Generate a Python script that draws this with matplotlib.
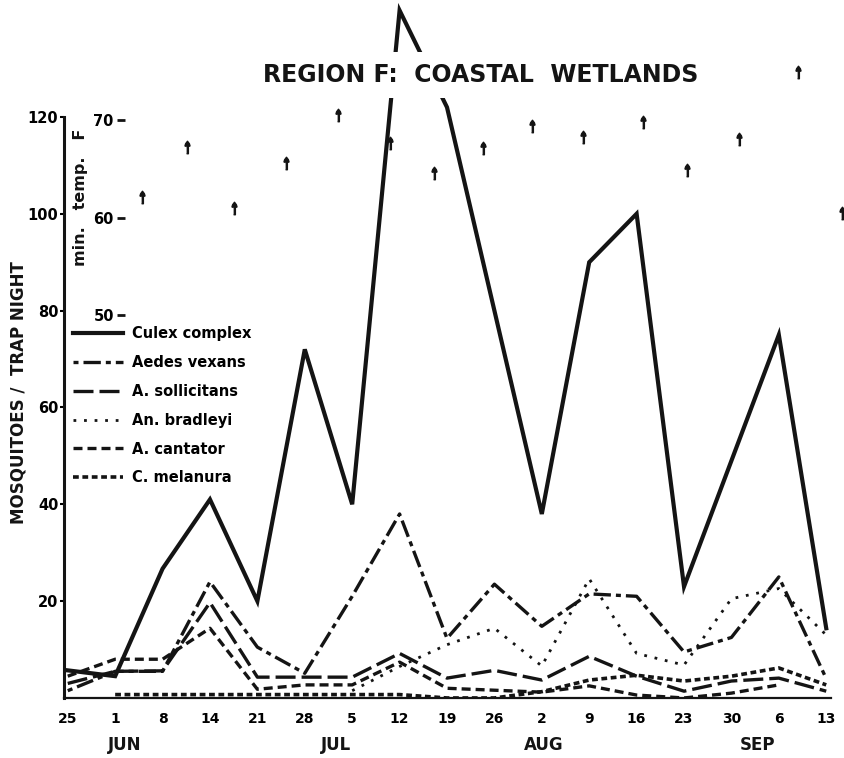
import numpy as np
import matplotlib
matplotlib.use('Agg')
import matplotlib.pyplot as plt

# semanas de coleta (25 JUN ... 13 SEP)
dias = ['25', '1', '8', '14', '21', '28', '5', '12', '19', '26', '2', '9', '16', '23', '30', '6', '13']
meses = ['JUN', 'JUL', 'AUG', 'SEP']
meses_pos = [1.2, 5.65, 10.05, 14.55]

nan = np.nan
culex = [5.7, 4.5, 26.7, 41, 20, 72, 40, 142, 122, 80, 38, 90, 100, 23, 49, 75, 14.4]
vexans = [1.5, 5.5, 5.5, 24, 10.5, 5.1, 21, 38, 12.3, 23.5, 14.8, 21.5, 21, 9.5, 12.5, 25, 4]
sollicitans = [3, 5.5, 5.6, 19.7, 4.3, 4.3, 4.3, 9.2, 4.1, 5.7, 3.7, 8.6, 4.5, 1.4, 3.5, 4.1, 1.4]
bradleyi = [nan, nan, nan, nan, nan, nan, 1.5, 6.5, 11, 14.4, 6.6, 24.6, 9.2, 6.8, 20.5, 22.6, 13]
cantator = [4.5, 8, 8, 14.4, 1.8, 2.7, 2.7, 7.4, 2, 1.6, 1.2, 2.5, 0.6, 0, 1, 2.7, nan]
melanura = [nan, 0.7, 0.7, 0.7, 0.7, 0.7, 0.7, 0.7, 0, 0, 1.3, 3.7, 4.7, 3.5, 4.5, 6.2, 2.7]

# temperatura minima (F), posicao em semanas
temp_x = [1.56, 2.51, 3.50, 4.60, 5.70, 6.79, 7.72, 8.76, 9.79, 10.86, 12.13, 13.06, 14.16, 15.40, 16.33]
temp_min = [62.1, 67.2, 61.0, 65.6, 70.5, 67.6, 64.6, 67.1, 69.4, 68.2, 69.8, 64.9, 68.0, 74.9, 60.5]

tinta = '#141414'
x = np.arange(len(dias))

fig = plt.figure(figsize=(8.45, 7.58), dpi=100)
ax = fig.add_axes([0.0757, 0.0792, 0.9077, 0.7665])

ax.plot(x, culex, color=tinta, lw=3.0, solid_joinstyle='miter', clip_on=False,
        label='Culex complex')
ax.plot(x, vexans, color=tinta, lw=2.4, linestyle=(0, (1.5, 1.5, 5.2, 1.5)),
        label='Aedes vexans')
ax.plot(x, sollicitans, color=tinta, lw=2.4, linestyle=(0, (6, 1.8)),
        label='A. sollicitans')
ax.plot(x, bradleyi, color=tinta, lw=2.0, linestyle=(0, (1, 2.8)),
        label='An. bradleyi')
ax.plot(x, cantator, color=tinta, lw=2.4, linestyle=(0, (2.7, 1.5)),
        label='A. cantator')
ax.plot(x, melanura, color=tinta, lw=2.6, linestyle=(0, (1.6, 1.0)),
        label='C. melanura')

ax.set_xlim(-0.08, 16.1)
ax.set_ylim(0, 120)
ax.spines['top'].set_visible(False)
ax.spines['right'].set_visible(False)
ax.spines['left'].set_linewidth(2.2)
ax.spines['bottom'].set_linewidth(1.6)
ax.spines['left'].set_color(tinta)
ax.spines['bottom'].set_color(tinta)

ax.set_xticks(x)
ax.set_xticklabels(dias, fontsize=10, fontweight='bold')
ax.tick_params(axis='x', length=0, pad=10)
ax.set_yticks([20, 40, 60, 80, 100, 120])
ax.set_yticklabels(['20', '40', '60', '80', '100', '120'], fontsize=10.5, fontweight='bold')
ax.tick_params(axis='y', length=3, width=1.5, pad=1, direction='out')

for m, p in zip(meses, meses_pos):
    ax.text(p, -0.081, m, transform=ax.get_xaxis_transform(), ha='center', va='center',
            fontsize=12, fontweight='bold', color=tinta)

ax.set_ylabel('MOSQUITOES /  TRAP NIGHT', fontsize=12, fontweight='bold', color=tinta)
ax.yaxis.set_label_coords(-0.048, 0.525)

leg = ax.legend(loc='upper left', bbox_to_anchor=(0.012, 0.64), frameon=False,
                borderpad=0, borderaxespad=0, handlelength=3.4, handletextpad=0.6,
                labelspacing=0.95, prop={'size': 10.5, 'weight': 'bold'})

# eixo da temperatura minima
ax2 = ax.twinx()
ax2.set_ylim(10.8, 70.3)
ax2.yaxis.tick_left()
ax2.yaxis.set_label_position('left')
for s in ['top', 'right', 'bottom', 'left']:
    ax2.spines[s].set_visible(False)
ax2.spines['left'].set_position(('axes', 0.0795))
ax2.set_yticks([50, 60, 70])
ax2.set_yticklabels(['50', '60', '70'], fontsize=10.5, fontweight='bold')
ax2.tick_params(axis='y', length=6, width=2, pad=2, direction='out', color=tinta)
ax2.set_ylabel('min.   temp.   F', fontsize=11.5, fontweight='bold', color=tinta)
ax2.yaxis.set_label_coords(0.031, 0.861)

seta = [(-0.14, -1), (0.14, -1), (0.14, 0.15), (0.4, 0.25), (0.3, 0.6), (0, 1),
        (-0.3, 0.6), (-0.4, 0.25), (-0.14, 0.15)]
ax2.plot(temp_x, temp_min, linestyle='none', marker=seta, ms=9, color=tinta,
         clip_on=False)

fig.text(481 / 845, 1 - 75 / 758, 'REGION F:  COASTAL  WETLANDS', ha='center', va='center',
         fontsize=17, fontweight='bold', color=tinta,
         bbox=dict(facecolor='white', edgecolor='none', pad=8))

fig.savefig('out.png', dpi=100, facecolor='white')
